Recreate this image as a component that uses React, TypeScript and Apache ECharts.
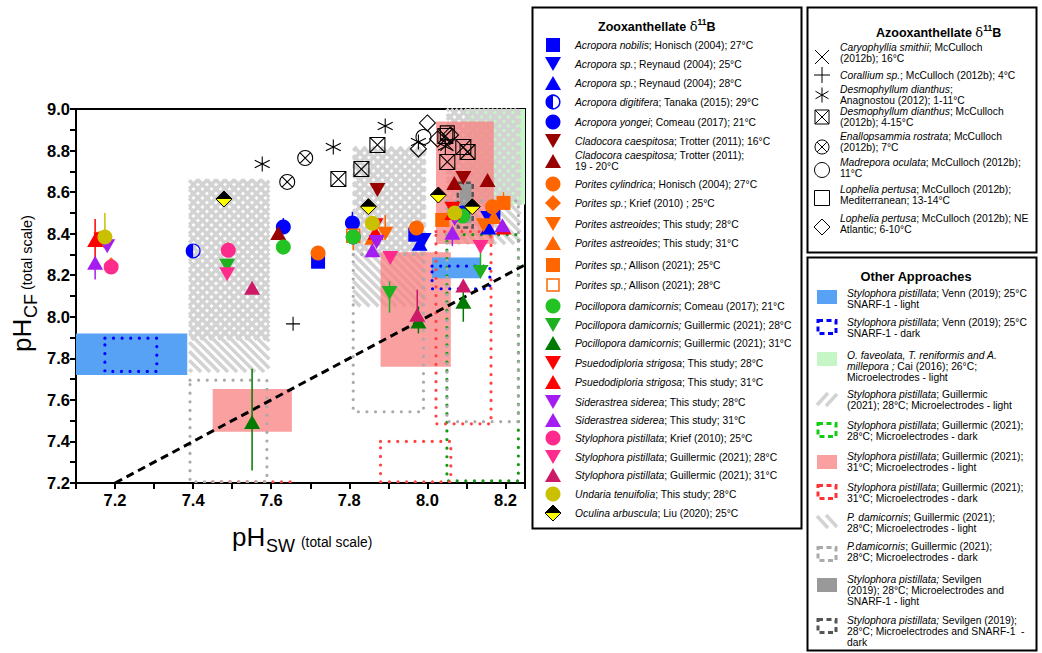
import React, { useEffect, useRef } from "react";
import * as echarts from "echarts";

const FONT = "'Liberation Sans', Arial, Helvetica, sans-serif";

// ---------- axes ----------
const xRange = [7.1, 8.25];
const yRange = [7.2, 9.0];
const oneToOne = [7.2, 8.25];

// ---------- Zooxanthellate d11B data : [pHsw, pHcf] ----------
const acroporaNobilis = [[7.72, 8.265], [7.969, 8.395], [8.169, 8.5]];
const acroporaSp25 = [[7.99, 8.37], [8.156, 8.475]];
const acroporaSp28 = [[7.98, 8.352], [8.156, 8.43]];
const acroporaDigitifera = [[7.4, 8.317], [7.81, 8.384], [8.09, 8.488]];
const acroporaYongei = [[7.631, 8.432], [7.808, 8.451], [8.09, 8.5]];
const cladocora16 = [[7.872, 8.61], [8.092, 8.668]];
const cladocora19 = [[7.618, 8.403], [8.069, 8.644], [8.154, 8.658]];
const poritesCylindrica = [[7.72, 8.307], [7.972, 8.427], [8.167, 8.53]];
const poritesKrief = [[7.19, 8.25], [7.49, 8.325]];
const poritesAst28 = [[7.172, 8.36], [7.892, 8.4], [8.144, 8.44]];
const poritesAst31 = [[7.16, 8.38], [7.859, 8.38], [8.17, 8.48]];
const poritesAllison25 = [[7.165, 8.375], [8.038, 8.466], [8.195, 8.548]];
const poritesAllison28 = [[7.81, 8.39]];
const pocilloporaComeau = [[7.631, 8.336], [7.81, 8.384], [8.09, 8.485]];
const pocillopora28 = [[7.487, 8.245], [7.903, 8.114], [8.136, 8.216]];
const pocillopora31 = [[7.551, 7.494], [7.977, 7.977], [8.092, 8.072]];
const pseudo28 = [[7.165, 8.372], [7.867, 8.44], [8.064, 8.52]];
const pseudo31 = [[7.149, 8.37], [7.867, 8.405], [8.064, 8.5], [8.195, 8.43]];
const siderastrea28 = [[7.18, 8.34], [7.87, 8.36], [8.07, 8.47]];
const siderastrea31 = [[7.149, 8.26], [7.859, 8.32], [8.064, 8.405], [8.192, 8.44]];
const stylophoraKrief = [[7.19, 8.24], [7.49, 8.32]];
const stylophora28 = [[7.487, 8.205], [7.905, 8.283], [8.136, 8.336]];
const stylophora31 = [[7.551, 8.14], [7.974, 8.01], [8.092, 8.15]];
const undaria = [[7.174, 8.384], [7.859, 8.45], [8.07, 8.5]];
const oculina = [[7.479, 8.567], [7.849, 8.53], [8.028, 8.586], [8.115, 8.53]];

// error bars: [pHsw, low, high]
const errPocillopora31 = [[7.551, 7.26, 7.75], [7.977, 7.92, 8.05], [8.092, 7.976, 8.13]];
const errPocillopora28 = [[7.903, 8.02, 8.17], [8.136, 8.216, 8.336]];
const errPocilloporaComeau = [[7.631, 8.3, 8.336]];
const errAcroporaYongei = [[7.631, 8.432, 8.475], [7.808, 8.451, 8.505]];
const errPseudo31 = [[7.149, 8.265, 8.47]];
const errUndaria = [[7.174, 8.384, 8.5]];
const errSiderastrea31 = [[7.149, 8.18, 8.26], [8.064, 8.34, 8.405]];
const errPoritesAst28 = [[7.892, 8.4, 8.49]];
const errPoritesAllison25 = [[8.195, 8.548, 8.6]];
const errPoritesAllison28 = [[7.81, 8.32, 8.39]];
const errStylophora31 = [[7.974, 8.01, 8.13]];

// ---------- Azooxanthellate d11B data ----------
const caryophyllia = [[8.05, 8.83]];
const corallium = [[7.656, 7.966]];
const desmoAnagnostou = [[7.577, 8.735], [7.759, 8.817], [7.892, 8.918], [7.977, 8.841], [8.046, 8.82]];
const desmoMcCulloch = [[7.772, 8.663], [7.831, 8.711], [7.872, 8.827], [8.051, 8.745], [8.092, 8.817], [8.103, 8.793], [8.046, 8.87]];
const enallopsammia = [[7.641, 8.649], [7.687, 8.764]];
const madrepora = [[7.99, 8.865]];
const lopheliaMed = [[8.051, 8.885]];
const lopheliaNE = [[8.0, 8.933], [8.026, 8.856], [7.977, 8.808], [8.059, 8.875]];

// ---------- Other approaches: [pHsw min, pHsw max, pHcf min, pHcf max] ----------
const vennLight = [[7.1, 7.385, 7.72, 7.92], [8.012, 8.136, 8.186, 8.285]];
const vennDark = [[7.174, 7.307, 7.737, 7.897], [8.012, 8.16, 8.135, 8.244]];
const caiLight = [[8.1, 8.25, 8.54, 9.0]];
const styloLight28 = [[7.39, 7.595, 7.89, 8.66], [7.81, 7.995, 8.31, 8.817], [8.05, 8.238, 8.55, 9.0]];
const styloDark28 = [[8.05, 8.233, 7.21, 8.395]];
const styloLight31 = [[7.45, 7.653, 7.447, 7.652], [7.88, 8.06, 7.76, 8.31], [8.022, 8.17, 8.35, 8.94]];
const styloDark31 = [[7.45, 7.653, 7.0, 7.205], [7.88, 8.06, 7.205, 7.4], [8.022, 8.163, 7.485, 8.41]];
const pocLight28 = [[7.39, 7.595, 7.734, 8.66], [7.81, 7.995, 8.05, 8.817], [8.05, 8.238, 8.35, 9.0]];
const pocDark28 = [[7.392, 7.589, 7.205, 7.695], [7.81, 7.99, 7.543, 8.3], [8.05, 8.233, 7.495, 8.558]];
const sevilgenLight = [[8.083, 8.113, 8.45, 8.64]];
const sevilgenDark = [[8.078, 8.116, 8.43, 8.645]];

// ---------- colours ----------
const BLUE = "#0000ff";
const DKRED = "#990000";
const ORANGE = "#ff6600";
const GREEN_C = "#22c322";
const GREEN_28 = "#1fb01f";
const GREEN_31 = "#007a00";
const RED = "#ff0000";
const PURPLE = "#a31cf0";
const PINK = "#ff2b8c";
const CRIMSON = "#cc1a66";
const OLIVE = "#c8c000";
const HATCH = "#d3d3d3";
const VENN_BLUE = "#58a2f6";
const CAI_GREEN = "#c6f6c6";
const PINK_FILL = "#f88080";
const PINK_LEGEND = "#faa0a0";
const SEV_GREY = "#999999";

const HALF_PATH =
  "path://M10,0A10,10 0 1,1 10,20A10,10 0 1,1 10,0Z M10,1.6A8.4,8.4 0 1,0 10,18.4A8.4,8.4 0 1,0 10,1.6Z M10,1.6A8.4,8.4 0 0,0 10,18.4Z";

const SYM: any = {
  rect: { symbol: "rect", size: 14 },
  openrect: { symbol: "rect", size: 13, open: true },
  down: { symbol: "path://M0,0L16,0L8,14Z", size: [16, 14] },
  up: { symbol: "path://M8,0L16,14L0,14Z", size: [16, 14] },
  circle: { symbol: "circle", size: 15 },
  diamond: { symbol: "diamond", size: 15 },
  half: { symbol: HALF_PATH, size: 15 },
  x: { symbol: "path://M0,0L20,20M20,0L0,20", size: 13, stroke: true },
  plus: { symbol: "path://M10,0L10,20M0,10L20,10", size: 14, stroke: true },
  star: { symbol: "path://M10,0L10,20M1.34,5L18.66,15M18.66,5L1.34,15", size: 15, stroke: true },
  boxx: { symbol: "path://M0,0L20,0L20,20L0,20ZM0,0L20,20M20,0L0,20", size: 15, stroke: true },
  circlex: { symbol: "path://M20,10A10,10 0 1,1 0,10A10,10 0 1,1 20,10ZM2.93,2.93L17.07,17.07M17.07,2.93L2.93,17.07", size: 15, stroke: true },
  ocircle: { symbol: "circle", size: 15, stroke: true },
  osquare: { symbol: "rect", size: 14, stroke: true },
  odiamond: { symbol: "diamond", size: 16, stroke: true },
};

const zoox = [
  { data: acroporaNobilis, kind: "rect", color: BLUE, text: "{i|Acropora nobilis}; Honisch (2004); 27°C" },
  { data: acroporaSp25, kind: "down", color: BLUE, text: "{i|Acropora sp.}; Reynaud (2004); 25°C" },
  { data: acroporaSp28, kind: "up", color: BLUE, text: "{i|Acropora sp.}; Reynaud (2004); 28°C" },
  { data: acroporaDigitifera, kind: "half", color: BLUE, text: "{i|Acropora digitifera}; Tanaka (2015); 29°C" },
  { data: acroporaYongei, kind: "circle", color: BLUE, text: "{i|Acropora yongei}; Comeau (2017); 21°C", err: errAcroporaYongei },
  { data: cladocora16, kind: "down", color: DKRED, text: "{i|Cladocora caespitosa}; Trotter (2011); 16°C" },
  { data: cladocora19, kind: "up", color: DKRED, text: "{i|Cladocora caespitosa;} Trotter (2011);\n19 - 20°C" },
  { data: poritesCylindrica, kind: "circle", color: ORANGE, text: "{i|Porites cylindrica}; Honisch (2004); 27°C" },
  { data: poritesKrief, kind: "diamond", color: ORANGE, text: "{i|Porites sp.}; Krief (2010) ; 25°C" },
  { data: poritesAst28, kind: "down", color: ORANGE, text: "{i|Porites astreoides}; This study; 28°C", err: errPoritesAst28 },
  { data: poritesAst31, kind: "up", color: ORANGE, text: "{i|Porites astreoides}; This study; 31°C" },
  { data: poritesAllison25, kind: "rect", color: ORANGE, text: "{i|Porites sp.;} Allison (2021); 25°C", err: errPoritesAllison25 },
  { data: poritesAllison28, kind: "openrect", color: ORANGE, text: "{i|Porites sp.;} Allison (2021); 28°C", err: errPoritesAllison28 },
  { data: pocilloporaComeau, kind: "circle", color: GREEN_C, text: "{i|Pocillopora damicornis}; Comeau (2017); 21°C", err: errPocilloporaComeau },
  { data: pocillopora28, kind: "down", color: GREEN_28, text: "{i|Pocillopora damicornis;} Guillermic (2021); 28°C", err: errPocillopora28 },
  { data: pocillopora31, kind: "up", color: GREEN_31, text: "{i|Pocillopora damicornis}; Guillermic (2021); 31°C", err: errPocillopora31 },
  { data: pseudo28, kind: "down", color: RED, text: "{i|Psuedodiploria strigosa}; This study; 28°C" },
  { data: pseudo31, kind: "up", color: RED, text: "{i|Psuedodiploria strigosa}; This study; 31°C", err: errPseudo31 },
  { data: siderastrea28, kind: "down", color: PURPLE, text: "{i|Siderastrea siderea}; This study; 28°C" },
  { data: siderastrea31, kind: "up", color: PURPLE, text: "{i|Siderastrea siderea}; This study; 31°C", err: errSiderastrea31 },
  { data: stylophoraKrief, kind: "circle", color: PINK, text: "{i|Stylophora pistillata}; Krief (2010); 25°C" },
  { data: stylophora28, kind: "down", color: PINK, text: "{i|Stylophora pistillata}; Guillermic (2021); 28°C" },
  { data: stylophora31, kind: "up", color: CRIMSON, text: "{i|Stylophora pistillata}; Guillermic (2021); 31°C", err: errStylophora31 },
  { data: undaria, kind: "circle", color: OLIVE, text: "{i|Undaria tenuifolia}; This study; 28°C", err: errUndaria },
  { data: oculina, kind: "oculina", color: "#ffff00", text: "{i|Oculina arbuscula}; Liu (2020); 25°C" },
];
const zooxRowY = [45, 64, 83, 102, 122, 141, 161, 184, 203, 224, 243, 265, 285, 306, 325, 343, 363, 382, 402, 420, 438, 457, 475, 494, 513];

const azoox = [
  { data: caryophyllia, kind: "x", text: "{i|Caryophyllia smithii}; McCulloch\n(2012b); 16°C" },
  { data: corallium, kind: "plus", text: "{i|Corallium sp.}; McCulloch (2012b); 4°C" },
  { data: desmoAnagnostou, kind: "star", text: "{i|Desmophyllum dianthus};\nAnagnostou (2012); 1-11°C" },
  { data: desmoMcCulloch, kind: "boxx", text: "{i|Desmophyllum dianthus}; McCulloch\n(2012b); 4-15°C" },
  { data: enallopsammia, kind: "circlex", text: "{i|Enallopsammia rostrata}; McCulloch\n(2012b); 7°C" },
  { data: madrepora, kind: "ocircle", text: "{i|Madrepora oculata}; McCulloch (2012b);\n11°C" },
  { data: lopheliaMed, kind: "osquare", text: "{i|Lophelia pertusa}; McCulloch (2012b);\nMediterranean; 13-14°C" },
  { data: lopheliaNE, kind: "odiamond", text: "{i|Lophelia pertusa}; McCulloch (2012b); NE\nAtlantic; 6-10°C" },
];
const azooxSymY = [57, 75, 95, 117, 147, 170, 198, 227];
const azooxTextY = [53, 75, 95, 117, 142, 168, 195, 224];

const others = [
  { icon: "fill", color: VENN_BLUE, text: "{i|Stylophora pistillata}; Venn (2019); 25°C\nSNARF-1 - light" },
  { icon: "dash", color: BLUE, text: "{i|Stylophora pistillata}; Venn (2019); 25°C\nSNARF-1 - dark" },
  { icon: "fill", color: CAI_GREEN, text: "{i|O. faveolata, T. reniformis and A.}\n{i|millepora ;} Cai (2016); 26°C;\nMicroelectrodes - light" },
  { icon: "fwd", color: HATCH, text: "{i|Stylophora pistillata}; Guillermic\n(2021); 28°C; Microelectrodes - light" },
  { icon: "dash", color: "#11cc11", text: "{i|Stylophora pistillata}; Guillermic (2021);\n28°C; Microelectrodes - dark" },
  { icon: "fill", color: PINK_LEGEND, text: "{i|Stylophora pistillata}; Guillermic (2021);\n31°C; Microelectrodes - light" },
  { icon: "dash", color: "#ff3333", text: "{i|Stylophora pistillata}; Guillermic (2021);\n31°C; Microelectrodes - dark" },
  { icon: "back", color: HATCH, text: "{i|P. damicornis}; Guillermic (2021);\n28°C; Microelectrodes - light" },
  { icon: "dash", color: "#aaaaaa", text: "{i|P.damicornis}; Guillermic (2021);\n28°C; Microelectrodes - dark" },
  { icon: "fill", color: SEV_GREY, text: "{i|Stylophora pistillata;} Sevilgen\n(2019); 28°C; Microelectrodes and\nSNARF-1 - light" },
  { icon: "dash", color: "#555555", text: "{i|Stylophora pistillata;} Sevilgen (2019);\n28°C; Microelectrodes and SNARF-1  -\ndark" },
];
const othersIconY = [297, 327, 359, 398, 430, 462, 492, 523, 554, 585, 626];
const othersTextY = [299, 328, 366, 400, 431, 462, 493, 523, 552, 590, 631];

// ---------- helpers ----------
const LFS = 10.3;
const LLH = 11;
const richItalic = { i: { fontStyle: "italic", fontSize: LFS, fontFamily: FONT, lineHeight: LLH, fill: "#000" } };

function legendText(x: number, y: number, text: string) {
  return {
    type: "text",
    x,
    y,
    style: { text, fontSize: LFS, fontFamily: FONT, lineHeight: LLH, fill: "#000", align: "left", verticalAlign: "middle", rich: richItalic },
  };
}

function legendSymbol(kind: string, color: string, cx: number, cy: number): any[] {
  const k = "#000";
  switch (kind) {
    case "rect":
      return [{ type: "rect", shape: { x: cx - 7, y: cy - 7, width: 14, height: 14 }, style: { fill: color } }];
    case "openrect":
      return [{ type: "rect", shape: { x: cx - 6, y: cy - 6, width: 12, height: 12 }, style: { fill: "#fff", stroke: color, lineWidth: 1.5 } }];
    case "down":
      return [{ type: "polygon", shape: { points: [[cx - 8, cy - 7], [cx + 8, cy - 7], [cx, cy + 7]] }, style: { fill: color } }];
    case "up":
      return [{ type: "polygon", shape: { points: [[cx, cy - 7], [cx + 8, cy + 7], [cx - 8, cy + 7]] }, style: { fill: color } }];
    case "circle":
      return [{ type: "circle", shape: { cx, cy, r: 7.5 }, style: { fill: color } }];
    case "diamond":
      return [{ type: "polygon", shape: { points: [[cx, cy - 8], [cx + 8, cy], [cx, cy + 8], [cx - 8, cy]] }, style: { fill: color } }];
    case "half":
      return [
        { type: "circle", shape: { cx, cy, r: 6.8 }, style: { fill: "#fff", stroke: color, lineWidth: 1.5 } },
        { type: "sector", shape: { cx, cy, r0: 0, r: 6.8, startAngle: Math.PI / 2, endAngle: Math.PI * 1.5 }, style: { fill: color } },
      ];
    case "oculina":
      return [
        { type: "polygon", shape: { points: [[cx, cy + 8], [cx + 8, cy], [cx - 8, cy]] }, style: { fill: "#ffff00" } },
        { type: "polygon", shape: { points: [[cx, cy - 8], [cx + 8, cy], [cx - 8, cy]] }, style: { fill: "#000" } },
        { type: "polygon", shape: { points: [[cx, cy - 8], [cx + 8, cy], [cx, cy + 8], [cx - 8, cy]] }, style: { fill: "none", stroke: "#000", lineWidth: 1 } },
      ];
    case "x":
      return [
        { type: "line", shape: { x1: cx - 7, y1: cy - 7, x2: cx + 7, y2: cy + 7 }, style: { stroke: k, lineWidth: 1 } },
        { type: "line", shape: { x1: cx + 7, y1: cy - 7, x2: cx - 7, y2: cy + 7 }, style: { stroke: k, lineWidth: 1 } },
      ];
    case "plus":
      return [
        { type: "line", shape: { x1: cx, y1: cy - 8, x2: cx, y2: cy + 8 }, style: { stroke: k, lineWidth: 1 } },
        { type: "line", shape: { x1: cx - 8, y1: cy, x2: cx + 8, y2: cy }, style: { stroke: k, lineWidth: 1 } },
      ];
    case "star":
      return [
        { type: "line", shape: { x1: cx, y1: cy - 7.5, x2: cx, y2: cy + 7.5 }, style: { stroke: k, lineWidth: 1 } },
        { type: "line", shape: { x1: cx - 6.5, y1: cy - 3.75, x2: cx + 6.5, y2: cy + 3.75 }, style: { stroke: k, lineWidth: 1 } },
        { type: "line", shape: { x1: cx + 6.5, y1: cy - 3.75, x2: cx - 6.5, y2: cy + 3.75 }, style: { stroke: k, lineWidth: 1 } },
      ];
    case "boxx":
      return [
        { type: "rect", shape: { x: cx - 7, y: cy - 7, width: 14, height: 14 }, style: { fill: "none", stroke: k, lineWidth: 1 } },
        { type: "line", shape: { x1: cx - 7, y1: cy - 7, x2: cx + 7, y2: cy + 7 }, style: { stroke: k, lineWidth: 1 } },
        { type: "line", shape: { x1: cx + 7, y1: cy - 7, x2: cx - 7, y2: cy + 7 }, style: { stroke: k, lineWidth: 1 } },
      ];
    case "circlex":
      return [
        { type: "circle", shape: { cx, cy, r: 7 }, style: { fill: "none", stroke: k, lineWidth: 1 } },
        { type: "line", shape: { x1: cx - 4.9, y1: cy - 4.9, x2: cx + 4.9, y2: cy + 4.9 }, style: { stroke: k, lineWidth: 1 } },
        { type: "line", shape: { x1: cx + 4.9, y1: cy - 4.9, x2: cx - 4.9, y2: cy + 4.9 }, style: { stroke: k, lineWidth: 1 } },
      ];
    case "ocircle":
      return [{ type: "circle", shape: { cx, cy, r: 7.5 }, style: { fill: "none", stroke: k, lineWidth: 1 } }];
    case "osquare":
      return [{ type: "rect", shape: { x: cx - 7.5, y: cy - 7.5, width: 15, height: 15 }, style: { fill: "none", stroke: k, lineWidth: 1 } }];
    case "odiamond":
      return [{ type: "polygon", shape: { points: [[cx, cy - 8], [cx + 8, cy], [cx, cy + 8], [cx - 8, cy]] }, style: { fill: "none", stroke: k, lineWidth: 1 } }];
  }
  return [];
}

function otherIcon(icon: string, color: string, cy: number): any[] {
  const x0 = 817;
  if (icon === "fill") return [{ type: "rect", shape: { x: x0, y: cy - 7, width: 20, height: 14 }, style: { fill: color } }];
  if (icon === "dash")
    return [{ type: "rect", shape: { x: x0 + 1, y: cy - 6.5, width: 18, height: 13 }, style: { fill: "none", stroke: color, lineWidth: 3, lineDash: [5, 3.5] } }];
  if (icon === "fwd")
    return [
      { type: "line", shape: { x1: x0, y1: cy + 7, x2: x0 + 11, y2: cy - 5 }, style: { stroke: color, lineWidth: 3.5 } },
      { type: "line", shape: { x1: x0 + 9, y1: cy + 8, x2: x0 + 20, y2: cy - 4 }, style: { stroke: color, lineWidth: 3.5 } },
    ];
  return [
    { type: "line", shape: { x1: x0, y1: cy - 7, x2: x0 + 11, y2: cy + 5 }, style: { stroke: color, lineWidth: 3.5 } },
    { type: "line", shape: { x1: x0 + 9, y1: cy - 8, x2: x0 + 20, y2: cy + 4 }, style: { stroke: color, lineWidth: 3.5 } },
  ];
}

function rectBounds(params: any, api: any, clipToGrid: boolean) {
  const a = api.coord([api.value(0), api.value(3)]);
  const b = api.coord([api.value(1), api.value(2)]);
  let L = Math.min(a[0], b[0]), R = Math.max(a[0], b[0]);
  let T = Math.min(a[1], b[1]), B = Math.max(a[1], b[1]);
  if (clipToGrid) {
    const cs = params.coordSys;
    L = Math.max(L, cs.x); R = Math.min(R, cs.x + cs.width);
    T = Math.max(T, cs.y); B = Math.min(B, cs.y + cs.height);
  }
  return { L, R, T, B };
}

function fillSeries(data: number[][], color: string, z: number, opacity = 1) {
  return {
    type: "custom",
    z,
    silent: true,
    data,
    renderItem: (params: any, api: any) => {
      const { L, R, T, B } = rectBounds(params, api, true);
      return { type: "rect", shape: { x: L, y: T, width: R - L, height: B - T }, style: { fill: color, opacity } };
    },
  };
}

function dotSeries(data: number[][], color: string, z: number, dashed = false) {
  return {
    type: "custom",
    z,
    clip: true,
    silent: true,
    data,
    renderItem: (params: any, api: any) => {
      const { L, R, T, B } = rectBounds(params, api, false);
      return {
        type: "rect",
        shape: { x: L, y: T, width: R - L, height: B - T },
        style: dashed
          ? { fill: "none", stroke: color, lineWidth: 2.5, lineDash: [5, 3] }
          : { fill: "none", stroke: color, lineWidth: 3.2, lineDash: [0.01, 8.6], lineCap: "round" },
      };
    },
  };
}

function hatchSeries(data: number[][], dir: number, z: number) {
  return {
    type: "custom",
    z,
    silent: true,
    data,
    renderItem: (params: any, api: any) => {
      const { L, R, T, B } = rectBounds(params, api, true);
      const step = 9;
      const children: any[] = [];
      const st = { stroke: HATCH, lineWidth: 3.6 };
      if (dir > 0) {
        for (let c = Math.ceil((L + T) / step) * step; c < R + B; c += step) {
          const xs = Math.max(L, c - B), xe = Math.min(R, c - T);
          if (xe > xs) children.push({ type: "line", shape: { x1: xs, y1: c - xs, x2: xe, y2: c - xe }, style: st });
        }
      } else {
        for (let c = Math.ceil((T - R) / step) * step; c < B - L; c += step) {
          const xs = Math.max(L, T - c), xe = Math.min(R, B - c);
          if (xe > xs) children.push({ type: "line", shape: { x1: xs, y1: xs + c, x2: xe, y2: xe + c }, style: st });
        }
      }
      return { type: "group", children };
    },
  };
}

function buildOption() {
  const series: any[] = [];

  // backgrounds / approaches
  series.push(fillSeries(caiLight, CAI_GREEN, 1));
  series.push(hatchSeries(styloLight28, 1, 2));
  series.push(hatchSeries(pocLight28, -1, 2));
  series.push(fillSeries(styloLight31, PINK_FILL, 3, 0.75));
  series.push(fillSeries(vennLight, VENN_BLUE, 4));
  series.push(fillSeries(sevilgenLight, SEV_GREY, 4));
  series.push(dotSeries(vennDark, BLUE, 5));
  series.push(dotSeries(styloDark28, "#119911", 5));
  series.push(dotSeries(styloDark31, "#ff4444", 5));
  series.push(dotSeries(pocDark28, "#aaaaaa", 5));
  series.push(dotSeries(sevilgenDark, "#555555", 5, true));

  // 1:1 line
  series.push({
    type: "line",
    z: 6,
    silent: true,
    symbol: "none",
    data: [[oneToOne[0], oneToOne[0]], [oneToOne[1], oneToOne[1]]],
    lineStyle: { color: "#000", width: 3, type: [8, 5] },
  });

  // error bars
  const errData: any[] = [];
  const errColors: string[] = [];
  zoox.forEach((s: any) => {
    if (s.err) {
      const ci = errColors.length;
      errColors.push(s.color);
      s.err.forEach((e: number[]) => errData.push([e[0], e[1], e[2], ci]));
    }
  });
  series.push({
    type: "custom",
    z: 7,
    silent: true,
    data: errData,
    renderItem: (params: any, api: any) => {
      const a = api.coord([api.value(0), api.value(1)]);
      const b = api.coord([api.value(0), api.value(2)]);
      return { type: "line", shape: { x1: a[0], y1: a[1], x2: b[0], y2: b[1] }, style: { stroke: errColors[api.value(3)], lineWidth: 1.5 } };
    },
  });

  // zooxanthellate points
  zoox.forEach((s: any, i: number) => {
    if (s.kind === "oculina") {
      series.push({
        type: "scatter", z: 8 + i, data: s.data, symbol: "diamond", symbolSize: 16,
        itemStyle: { color: "#ffff00", borderColor: "#000", borderWidth: 1, opacity: 1 },
      });
      series.push({
        type: "scatter", z: 8 + i, data: s.data, symbol: "path://M0,10L10,0L20,10Z", symbolSize: [16, 8], symbolOffset: [0, -4],
        itemStyle: { color: "#000", opacity: 1 },
      });
      return;
    }
    const d = SYM[s.kind];
    series.push({
      type: "scatter",
      z: 8 + i,
      data: s.data,
      symbol: d.symbol,
      symbolSize: d.size,
      itemStyle: d.open
        ? { color: "rgba(255,255,255,0)", borderColor: s.color, borderWidth: 1.5, opacity: 1 }
        : { color: s.color, opacity: 1 },
    });
  });

  // azooxanthellate points
  azoox.forEach((s: any, i: number) => {
    const d = SYM[s.kind];
    series.push({
      type: "scatter",
      z: 40 + i,
      data: s.data,
      symbol: d.symbol,
      symbolSize: d.size,
      itemStyle: { color: "rgba(255,255,255,0)", borderColor: "#000", borderWidth: 1.1, opacity: 1 },
    });
  });

  // ---------- graphic: legends and axis titles ----------
  const g: any[] = [];
  g.push({ type: "rect", shape: { x: 532.5, y: 7.5, width: 269, height: 521 }, style: { fill: "none", stroke: "#000", lineWidth: 2 } });
  g.push({ type: "rect", shape: { x: 807.5, y: 7.5, width: 229, height: 245 }, style: { fill: "none", stroke: "#000", lineWidth: 2 } });
  g.push({ type: "rect", shape: { x: 807.5, y: 257.5, width: 229, height: 393 }, style: { fill: "none", stroke: "#000", lineWidth: 2 } });

  const titleRich = {
    b: { fontSize: 12.5, fontWeight: "bold", fontFamily: FONT, lineHeight: 16, verticalAlign: "bottom", fill: "#000" },
    d: { fontSize: 13, fontFamily: "'DejaVu Serif', serif", lineHeight: 16, verticalAlign: "bottom", fill: "#000" },
    s: { fontSize: 8.5, fontWeight: "bold", fontFamily: FONT, lineHeight: 10, verticalAlign: "top", fill: "#000" },
  };
  g.push({ type: "text", x: 598, y: 25, style: { text: "{b|Zooxanthellate }{d|δ}{s|11}{b|B}", rich: titleRich, align: "left", verticalAlign: "middle" } });
  g.push({ type: "text", x: 876, y: 31, style: { text: "{b|Azooxanthellate }{d|δ}{s|11}{b|B}", rich: titleRich, align: "left", verticalAlign: "middle" } });
  g.push({ type: "text", x: 916, y: 276, style: { text: "Other Approaches", fontSize: 12.8, fontWeight: "bold", fontFamily: FONT, fill: "#000", align: "center", verticalAlign: "middle" } });

  zoox.forEach((s: any, i: number) => {
    g.push(...legendSymbol(s.kind, s.color, 553, zooxRowY[i]));
    g.push(legendText(575, zooxRowY[i], s.text));
  });
  azoox.forEach((s: any, i: number) => {
    g.push(...legendSymbol(s.kind, "#000", 822, azooxSymY[i]));
    g.push(legendText(840, azooxTextY[i], s.text));
  });
  others.forEach((s: any, i: number) => {
    g.push(...otherIcon(s.icon, s.color, othersIconY[i]));
    g.push(legendText(847, othersTextY[i], s.text));
  });

  // axis titles
  g.push({ type: "text", x: 232, y: 537, style: { text: "pH", fontSize: 26, fontFamily: FONT, fill: "#000", align: "left", verticalAlign: "middle" } });
  g.push({ type: "text", x: 266, y: 545.5, style: { text: "SW", fontSize: 18, fontFamily: FONT, fill: "#000", align: "left", verticalAlign: "middle" } });
  g.push({ type: "text", x: 301, y: 542, style: { text: "(total scale)", fontSize: 13.8, fontFamily: FONT, fill: "#000", align: "left", verticalAlign: "middle" } });
  g.push({
    type: "group",
    x: 22,
    y: 352,
    rotation: Math.PI / 2,
    children: [
      { type: "text", x: 0, y: 0, style: { text: "pH", fontSize: 26, fontFamily: FONT, fill: "#000", align: "left", verticalAlign: "middle" } },
      { type: "text", x: 34, y: 8.5, style: { text: "CF", fontSize: 18, fontFamily: FONT, fill: "#000", align: "left", verticalAlign: "middle" } },
      { type: "text", x: 62, y: 5, style: { text: "(total scale)", fontSize: 14.5, fontFamily: FONT, fill: "#000", align: "left", verticalAlign: "middle" } },
    ],
  });

  const labelFmt = (v: number) => (Math.abs(Math.round(v * 10)) % 2 === 0 ? v.toFixed(1) : "");

  return {
    animation: false,
    backgroundColor: "#fff",
    grid: { left: 76, top: 109, width: 449, height: 374, show: true, borderColor: "#000", borderWidth: 2, backgroundColor: "rgba(0,0,0,0)" },
    xAxis: {
      type: "value",
      min: xRange[0],
      max: xRange[1],
      interval: 0.1,
      axisLine: { show: true, onZero: false, lineStyle: { color: "#000", width: 2 } },
      axisTick: { show: true, length: 6, lineStyle: { color: "#000", width: 2 } },
      axisLabel: { formatter: labelFmt, color: "#000", fontWeight: "bold", fontSize: 16.5, fontFamily: FONT, margin: 8 },
      splitLine: { show: false },
    },
    yAxis: {
      type: "value",
      min: yRange[0],
      max: yRange[1],
      interval: 0.1,
      axisLine: { show: true, onZero: false, lineStyle: { color: "#000", width: 2 } },
      axisTick: { show: true, length: 6, lineStyle: { color: "#000", width: 2 } },
      axisLabel: { formatter: labelFmt, color: "#000", fontWeight: "bold", fontSize: 16.5, fontFamily: FONT, margin: 6 },
      splitLine: { show: false },
    },
    graphic: { elements: g },
    series,
  };
}

export default function App() {
  const ref = useRef<HTMLDivElement>(null);
  useEffect(() => {
    const chart = echarts.init(ref.current as HTMLDivElement, null, { renderer: "svg" });
    chart.setOption(buildOption() as any);
    return () => chart.dispose();
  }, []);
  return (
    <div
      ref={ref}
      style={{ position: "absolute", left: 0, top: 0, width: 1042, height: 653, background: "#fff" }}
    />
  );
}
